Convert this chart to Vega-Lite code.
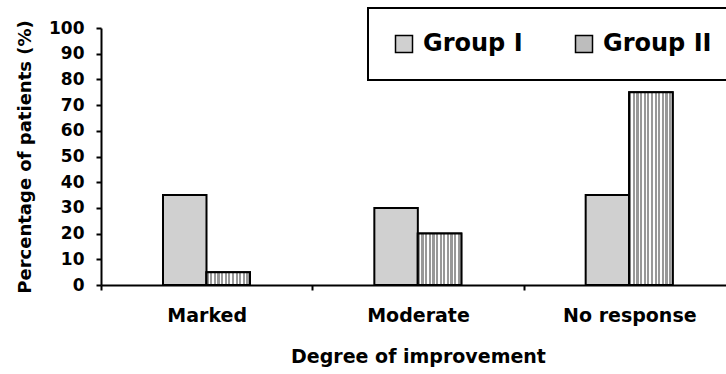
{
  "$schema": "https://vega.github.io/schema/vega-lite/v6.json",
  "width": 634,
  "height": 257,
  "autosize": {"type": "none"},
  "padding": {"left": 101, "top": 28, "right": -9, "bottom": 89},
  "background": "white",
  "config": {
    "view": {"stroke": null},
    "font": "DejaVu Sans",
    "legend": {"strokeWidth": 2}
  },
  "data": {
    "values": [
      {"degree": "Marked", "group": "Group I", "value": 35},
      {"degree": "Marked", "group": "Group II", "value": 5},
      {"degree": "Moderate", "group": "Group I", "value": 30},
      {"degree": "Moderate", "group": "Group II", "value": 20},
      {"degree": "No response", "group": "Group I", "value": 35},
      {"degree": "No response", "group": "Group II", "value": 75}
    ]
  },
  "encoding": {
    "x": {
      "field": "degree",
      "type": "nominal",
      "sort": ["Marked", "Moderate", "No response"],
      "scale": {"paddingInner": 0, "paddingOuter": 0},
      "axis": {
        "title": "Degree of improvement",
        "labelAngle": 0,
        "tickBand": "extent",
        "domainColor": "black",
        "domainWidth": 2,
        "tickColor": "black",
        "tickWidth": 2,
        "tickSize": 5,
        "labelFont": "DejaVu Sans",
        "labelFontWeight": "bold",
        "labelFontSize": 19,
        "labelColor": "black",
        "labelPadding": 16,
        "titleFont": "DejaVu Sans",
        "titleFontWeight": "bold",
        "titleFontSize": 19,
        "titleColor": "black",
        "titlePadding": 22
      }
    },
    "xOffset": {
      "field": "group",
      "type": "nominal",
      "scale": {"domain": ["Group I", "Group II"], "range": [62, 149], "paddingInner": 0, "paddingOuter": 0}
    },
    "y": {
      "field": "value",
      "type": "quantitative",
      "scale": {"domain": [0, 100], "nice": false},
      "axis": {
        "title": "Percentage of patients (%)",
        "values": [0, 10, 20, 30, 40, 50, 60, 70, 80, 90, 100],
        "grid": false,
        "domainColor": "black",
        "domainWidth": 2,
        "tickColor": "black",
        "tickWidth": 2,
        "tickSize": 5,
        "labelFont": "DejaVu Sans",
        "labelFontWeight": "bold",
        "labelFontSize": 17,
        "labelColor": "black",
        "labelPadding": 12,
        "titleFont": "DejaVu Sans",
        "titleFontWeight": "bold",
        "titleFontSize": 18,
        "titleColor": "black",
        "titlePadding": 14
      }
    }
  },
  "layer": [
    {
      "mark": {"type": "bar", "stroke": "black", "strokeWidth": 2, "opacity": 1},
      "encoding": {
        "color": {
          "field": "group",
          "type": "nominal",
          "scale": {"domain": ["Group I", "Group II"], "range": ["#d0d0d0", "#bdbdbd"]},
          "legend": {
            "title": null,
            "orient": "none",
            "legendX": 267,
            "legendY": -20,
            "direction": "horizontal",
            "padding": 24,
            "strokeColor": "black",
            "fillColor": "white",
            "symbolType": "square",
            "symbolSize": 289,
            "symbolStrokeColor": "black",
            "symbolStrokeWidth": 1.5,
            "symbolOpacity": 1,
            "labelFont": "DejaVu Sans",
            "labelFontWeight": "bold",
            "labelFontSize": 24,
            "labelColor": "black",
            "labelOffset": 7,
            "columnPadding": 49,
            "labelLimit": 300
          }
        }
      }
    },
    {
      "transform": [{"filter": "datum.group === 'Group II'"}],
      "mark": {
        "type": "bar",
        "stroke": "black",
        "strokeWidth": 2,
        "opacity": 1,
        "fill": {
          "gradient": "linear",
          "x1": 0, "y1": 0, "x2": 1, "y2": 0,
          "stops": [
            {"offset": 0, "color": "#999999"}, {"offset": 0.05, "color": "#999999"}, {"offset": 0.05, "color": "#ffffff"}, {"offset": 0.0833, "color": "#ffffff"},
            {"offset": 0.0833, "color": "#999999"}, {"offset": 0.1333, "color": "#999999"}, {"offset": 0.1333, "color": "#ffffff"}, {"offset": 0.1667, "color": "#ffffff"},
            {"offset": 0.1667, "color": "#999999"}, {"offset": 0.2167, "color": "#999999"}, {"offset": 0.2167, "color": "#ffffff"}, {"offset": 0.25, "color": "#ffffff"},
            {"offset": 0.25, "color": "#999999"}, {"offset": 0.3, "color": "#999999"}, {"offset": 0.3, "color": "#ffffff"}, {"offset": 0.3333, "color": "#ffffff"},
            {"offset": 0.3333, "color": "#999999"}, {"offset": 0.3833, "color": "#999999"}, {"offset": 0.3833, "color": "#ffffff"}, {"offset": 0.4167, "color": "#ffffff"},
            {"offset": 0.4167, "color": "#999999"}, {"offset": 0.4667, "color": "#999999"}, {"offset": 0.4667, "color": "#ffffff"}, {"offset": 0.5, "color": "#ffffff"},
            {"offset": 0.5, "color": "#999999"}, {"offset": 0.55, "color": "#999999"}, {"offset": 0.55, "color": "#ffffff"}, {"offset": 0.5833, "color": "#ffffff"},
            {"offset": 0.5833, "color": "#999999"}, {"offset": 0.6333, "color": "#999999"}, {"offset": 0.6333, "color": "#ffffff"}, {"offset": 0.6667, "color": "#ffffff"},
            {"offset": 0.6667, "color": "#999999"}, {"offset": 0.7167, "color": "#999999"}, {"offset": 0.7167, "color": "#ffffff"}, {"offset": 0.75, "color": "#ffffff"},
            {"offset": 0.75, "color": "#999999"}, {"offset": 0.8, "color": "#999999"}, {"offset": 0.8, "color": "#ffffff"}, {"offset": 0.8333, "color": "#ffffff"},
            {"offset": 0.8333, "color": "#999999"}, {"offset": 0.8833, "color": "#999999"}, {"offset": 0.8833, "color": "#ffffff"}, {"offset": 0.9167, "color": "#ffffff"},
            {"offset": 0.9167, "color": "#999999"}, {"offset": 0.9667, "color": "#999999"}, {"offset": 0.9667, "color": "#ffffff"}, {"offset": 1, "color": "#ffffff"}
          ]
        }
      }
    }
  ]
}
